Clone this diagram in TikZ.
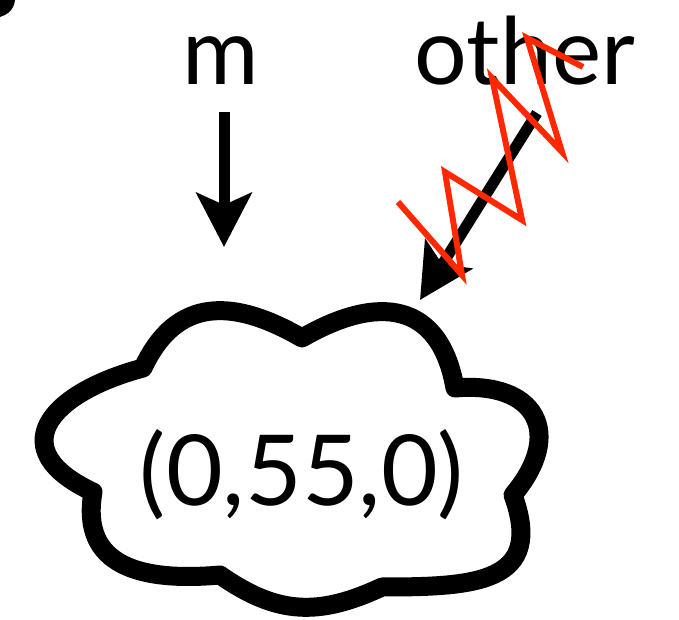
\documentclass[tikz,border=0pt]{standalone}
\usepackage{fontspec}
\setmainfont{Lato}
\usetikzlibrary{arrows.meta}
\definecolor{jamred}{RGB}{255,40,0}

\begin{document}
\begin{tikzpicture}[x=1pt,y=1pt]

  \tikzstyle{word}=[inner sep=0pt,anchor=base,font=\fontsize{93}{100}\selectfont]
  \tikzstyle{flow}=[line width=11pt,-{Stealth[length=54pt,width=55pt,inset=12pt]}]
  \tikzstyle{jam}=[line width=6pt,draw=jamred]
  \tikzstyle{puffs}=[line width=19pt,line join=round]
  \tikzstyle{value}=[inner sep=0pt,font=\fontsize{98}{110}\selectfont]

  % ====================
  % Frame
  % ====================
  \useasboundingbox (0,0) rectangle (679,620);

  % stray mark at the corner
  \fill (0,620) -- (15,620) .. controls (14,610) and (7,605) .. (0,603) -- cycle;

  % ====================
  % Messages
  % ====================
  \node (m) [word] at (221,535) {m};
  \node (other) [word] at (525,535) {other};

  \coordinate (mtail) at (224,508);
  \coordinate (mtip) at (224,373);
  \coordinate (otail) at (537,507);
  \coordinate (otip) at (420,320);

  \draw[flow] (mtail) -- (mtip);
  \draw[flow] (otail) -- (otip);

  % Dropped message
  \draw[jam] (398,418) -- (462,345) -- (445,448) -- (522,400)
    -- (492,542) -- (562,468) -- (527,582) -- (583,553);

  % ====================
  % State
  % ====================
  \draw[puffs] (143,252)
    to[out=65,in=150,looseness=1.25] (302,282) % top left
    to[out=30,in=100,looseness=1.4] (455,232)  % top right
    to[out=5,in=50,looseness=1.7] (513,125)    % right
    to[out=-70,in=0,looseness=1.5] (382,33)    % bottom right
    to[out=205,in=-35,looseness=1.1] (220,45)  % bottom
    to[out=185,in=-100,looseness=1.3] (93,128) % bottom left
    to[out=155,in=195,looseness=1.9] cycle;    % left
  \node (st) [value] at (302,145) {(0,55,0)};

\end{tikzpicture}
\end{document}
